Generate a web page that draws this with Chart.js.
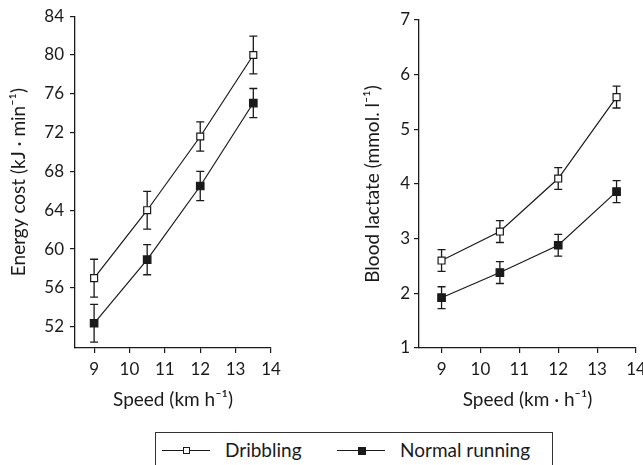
<!DOCTYPE html>
<html>
<head>
<meta charset="utf-8">
<script src="https://cdn.jsdelivr.net/npm/chart.js@4.4.0/dist/chart.umd.min.js"></script>
<style>
	html, body { margin: 0; padding: 0; background: #fff; width: 643px; height: 465px; overflow: hidden; position: relative; font-family: 'Lato', sans-serif; color: #1a1a1a; }
	.panel { position: absolute; top: 0; }
	.legend { position: absolute; left: 155px; top: 432px; width: 398px; height: 40px; border: 1px solid #333; box-sizing: border-box; }
	.legend .item { position: absolute; top: 5px; font-size: 19px; line-height: 24px; }
	.legend .line { position: absolute; top: 17px; height: 1.3px; width: 48px; background: #1a1a1a; }
	.legend .mark { position: absolute; box-sizing: border-box; }
</style>
</head>
<body>
<div class="panel" style="left:0; width:290px; height:420px;"><canvas id="energy-chart" width="290" height="420"></canvas></div>
<div class="panel" style="left:318px; width:345px; height:420px;"><canvas id="lactate-chart" width="345" height="420"></canvas></div>

<div class="legend">
	<div class="line" style="left:6px;"></div>
	<div class="mark" style="left:27px; top:14px; width:7px; height:7px; border:1.2px solid #1a1a1a; background:#fff;"></div>
	<div class="item" style="left:69px;">Dribbling</div>
	<div class="line" style="left:181px;"></div>
	<div class="mark" style="left:202px; top:14px; width:8px; height:8px; background:#1a1a1a;"></div>
	<div class="item" style="left:244px;">Normal running</div>
</div>

<script>
// speed levels (km/h)
const speeds = [9, 10.5, 12, 13.5];
const speedTicks = [9, 10, 11, 12, 13, 14];

// energy cost, kJ/min (mean and SD)
const energyDribbling = [57.0, 64.0, 71.6, 80.0];
const energyDribblingSd = [1.95, 1.95, 1.5, 1.95];
const energyNormal = [52.35, 58.9, 66.5, 75.05];
const energyNormalSd = [1.95, 1.55, 1.5, 1.5];
const energyTicks = [52, 56, 60, 64, 68, 72, 76, 80, 84];

// blood lactate, mmol/l (mean and SD)
const lactateDribbling = [2.6, 3.13, 4.1, 5.59];
const lactateDribblingSd = [0.2, 0.2, 0.2, 0.2];
const lactateNormal = [1.92, 2.38, 2.88, 3.86];
const lactateNormalSd = [0.2, 0.2, 0.2, 0.2];
const lactateTicks = [1, 2, 3, 4, 5, 6, 7];

const INK = '#1a1a1a';
const FONT = 'Lato';

// vertical SD bars with caps, drawn under the markers
const errorBars = {
	id: 'errorBars',
	beforeDatasetsDraw(chart) {
		const ctx = chart.ctx;
		const yScale = chart.scales.y;
		ctx.save();
		ctx.strokeStyle = INK;
		ctx.lineWidth = 1.3;
		chart.data.datasets.forEach((ds, i) => {
			const meta = chart.getDatasetMeta(i);
			meta.data.forEach((pt, j) => {
				const v = ds.data[j].y, e = ds.sd[j];
				const top = yScale.getPixelForValue(v + e);
				const bot = yScale.getPixelForValue(v - e);
				ctx.beginPath();
				ctx.moveTo(pt.x, top); ctx.lineTo(pt.x, bot);
				ctx.moveTo(pt.x - 4, top); ctx.lineTo(pt.x + 4, top);
				ctx.moveTo(pt.x - 4, bot); ctx.lineTo(pt.x + 4, bot);
				ctx.stroke();
			});
		});
		ctx.restore();
	}
};

function series(values, sd, filled) {
	return {
		data: speeds.map((s, i) => ({ x: s, y: values[i] })),
		sd: sd,
		borderColor: INK,
		borderWidth: 1.2,
		pointStyle: 'rect',
		pointRadius: filled ? 5.3 : 4.9,
		pointBorderWidth: 1.2,
		pointBorderColor: INK,
		pointBackgroundColor: filled ? INK : '#fff',
		tension: 0
	};
}

function axisGrid() {
	return { display: true, drawOnChartArea: false, drawTicks: true, tickLength: 5, color: INK, lineWidth: 1.2 };
}

function makeChart(id, cfg) {
	new Chart(document.getElementById(id), {
		type: 'line',
		data: { datasets: [series(cfg.drib, cfg.dribSd, false), series(cfg.norm, cfg.normSd, true)] },
		options: {
			responsive: false,
			animation: false,
			devicePixelRatio: 1,
			layout: { padding: { left: 0, top: cfg.top, right: cfg.right, bottom: 0 } },
			plugins: { legend: { display: false }, tooltip: { enabled: false } },
			scales: {
				x: {
					type: 'linear', min: cfg.xMin, max: 14,
					afterBuildTicks: (axis) => { axis.ticks = speedTicks.map(v => ({ value: v })); },
					afterFit: (axis) => { axis.height = 72; },
					grid: axisGrid(),
					border: { display: true, color: INK, width: 1.3 },
					ticks: { color: INK, padding: 6, font: { family: FONT, size: 17 }, maxRotation: 0 },
					title: { display: true, text: cfg.xTitle, color: INK, font: { family: FONT, size: 19 }, padding: { top: 0, bottom: 9 } }
				},
				y: {
					type: 'linear', min: cfg.yMin, max: cfg.yMax,
					afterBuildTicks: (axis) => { axis.ticks = cfg.yTicks.map(v => ({ value: v })); },
					afterFit: (axis) => { axis.width = cfg.yWidth; },
					grid: axisGrid(),
					border: { display: true, color: INK, width: 1.3 },
					ticks: { color: INK, padding: cfg.tickPad, font: { family: FONT, size: 17 } },
					title: { display: true, text: cfg.yTitle, color: INK, font: { family: FONT, size: 19 }, padding: { top: cfg.titleOff, bottom: 0 } }
				}
			}
		},
		plugins: [errorBars]
	});
}

makeChart('energy-chart', {
	drib: energyDribbling, dribSd: energyDribblingSd,
	norm: energyNormal, normSd: energyNormalSd,
	yMin: 49.8, yMax: 84, yTicks: energyTicks, xMin: 8.46,
	top: 16, right: 19, yWidth: 75, tickPad: 6, titleOff: 7,
	xTitle: 'Speed (km h\u207B\u00B9)',
	yTitle: 'Energy cost (kJ \u00B7 min\u207B\u00B9)'
});

makeChart('lactate-chart', {
	drib: lactateDribbling, dribSd: lactateDribblingSd,
	norm: lactateNormal, normSd: lactateNormalSd,
	yMin: 1, yMax: 7, yTicks: lactateTicks, xMin: 8.42,
	top: 20, right: 27, yWidth: 101, tickPad: 4, titleOff: 43,
	xTitle: 'Speed (km \u00B7 h\u207B\u00B9)',
	yTitle: 'Blood lactate (mmol. l\u207B\u00B9)'
});
</script>
</body>
</html>
